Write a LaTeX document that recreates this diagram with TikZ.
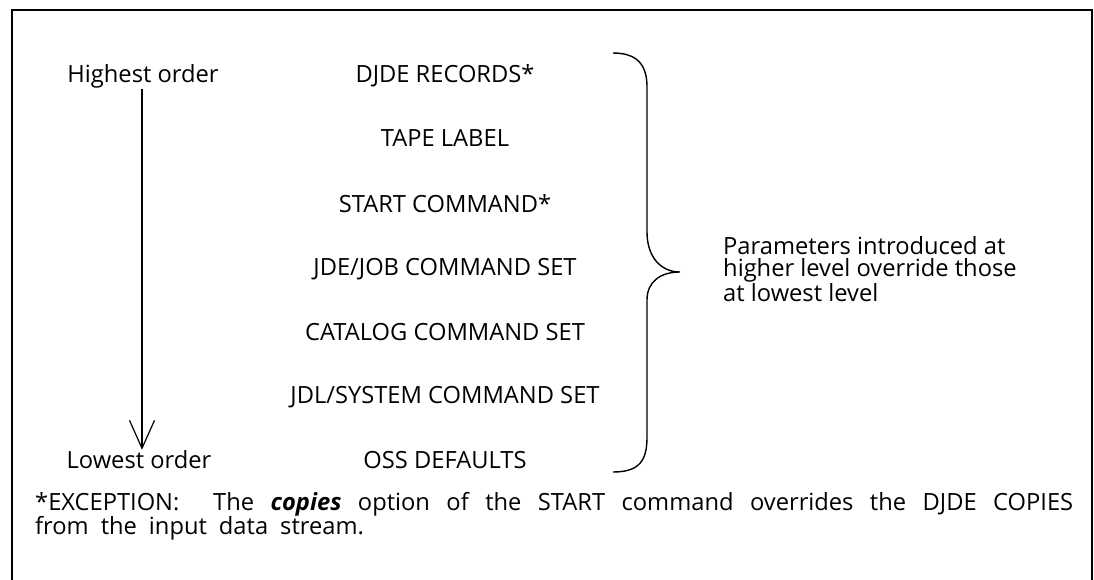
\documentclass[tikz,border=0pt]{standalone}
\usepackage{fontspec}
\setmainfont{Open Sans}
\usetikzlibrary{arrows.meta}
\begin{document}
\begin{tikzpicture}[x=1pt,y=-1pt,
  txt/.style={font=\fontsize{23.7}{28}\selectfont, inner sep=0pt},
  lvl/.style={txt, anchor=base},
  frameline/.style={line width=1.8pt},
  orderarrow/.style={line width=1.2pt, -{Straight Barb[length=28pt,width=25pt,line width=1.2pt]}},
  bracepath/.style={line width=1.4pt}]
\useasboundingbox (0,0) rectangle (1094,580);
% frame (open at the bottom)
\draw[frameline] (12,580) -- (12,10) -- (1092,10) -- (1092,580);
% order labels
\node[lvl] (hi) at (143,83) {Highest order};
\node[lvl] (lo) at (139,468) {Lowest order};
\draw[orderarrow] (hi.south -| 142,102) -- (lo.north -| 142,440);
% levels
\node[lvl] (l1) at (445,83) {DJDE RECORDS*};
\node[lvl] (l2) at (445,147) {TAPE LABEL};
\node[lvl] (l3) at (445,212) {START COMMAND*};
\node[lvl] (l4) at (445,275) {JDE/JOB COMMAND SET};
\node[lvl] (l5) at (445,340) {CATALOG COMMAND SET};
\node[lvl] (l6) at (445,403) {JDL/SYSTEM COMMAND SET};
\node[lvl] (l7) at (445,468) {OSS DEFAULTS};
% brace
\coordinate (btop) at (613,53);
\coordinate (bmid) at (680,272);
\coordinate (bbot) at (613,472);
\draw[bracepath] (btop) .. controls (640,53) and (647,68) .. (647,87) -- (647,232)
  .. controls (647,256) and (660,272) .. (bmid)
  .. controls (660,272) and (647,282) .. (647,300) -- (647,437)
  .. controls (647,460) and (640,472) .. (bbot);
% explanation
\node[txt, anchor=north west, align=left, font=\fontsize{23.7}{22.5}\selectfont] (expl) at (723,236)
  {Parameters introduced at\\higher level override those\\at lowest level};
% footnote
\node[txt, anchor=north west, align=left, font=\fontsize{23.7}{24}\selectfont] (note) at (35,492)
  {\hbox to 1038pt{\hbox to 178pt{*EXCEPTION:\hfil}The \textbf{\textit{copies}} option of the START command overrides the DJDE COPIES}\\
   {\spaceskip=12pt plus 2pt from the input data stream.}};
\end{tikzpicture}
\end{document}
